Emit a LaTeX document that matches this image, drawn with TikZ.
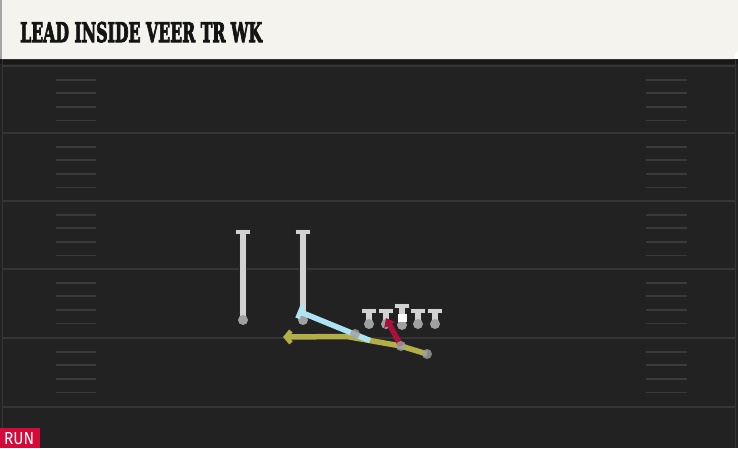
\documentclass[tikz,border=0pt]{standalone}
\usepackage{fontspec}
\usetikzlibrary{arrows.meta}
\newfontfamily\titlefont{DejaVu Serif}[BoldFeatures={FakeBold=4}]
\newfontfamily\runfont{Fira Sans}
\definecolor{fieldbg}{HTML}{222222}
\definecolor{bandc}{HTML}{181818}
\definecolor{yardc}{HTML}{353535}
\definecolor{hashc}{HTML}{3A3A3A}
\definecolor{headc}{HTML}{F5F3EE}
\definecolor{plgray}{HTML}{D2D2D2}
\definecolor{dotc}{HTML}{A0A0A0}
\definecolor{bluec}{HTML}{AEE4F2}
\definecolor{yellc}{HTML}{B2AF48}
\definecolor{redc}{HTML}{A8123A}
\definecolor{runc}{HTML}{D40A3A}
\begin{document}
\begin{tikzpicture}[x=1pt,y=-1pt,
  yardline/.style={line width=2pt, draw=yardc},
  hashline/.style={line width=1.8pt, draw=hashc},
  stemline/.style={line width=5.5pt, draw=plgray},
  stemshadow/.style={line width=7.5pt, draw=black!85},
  dotfill/.style={fill=dotc, opacity=0.8},
  route/.style={line width=5.5pt},
]
\useasboundingbox (0,0) rectangle (738,448);
% field
\fill[fieldbg] (0,59) rectangle (738,448);
\fill[bandc] (0,59) rectangle (738,64);
\draw[line width=1pt, draw=yardc] (2,59) -- (2,448);
\draw[line width=1pt, draw=yardc] (735.5,59) -- (735.5,448);
\foreach \y in {66,133,201,269,338,407} \draw[yardline] (2,\y) -- (735,\y);
\foreach \b in {66,133,201,269,338} {
  \foreach \k in {1,2,3,4} {
    \draw[hashline] (56,\b+\k*13.6) -- (96,\b+\k*13.6);
    \draw[hashline] (646,\b+\k*13.6) -- (687,\b+\k*13.6);
  }
}
% header
\fill[headc] (2,0) -- (738,0) -- (738,50) -- (733,59) -- (2,59) -- cycle;
\fill[black!35] (0,0) rectangle (2,59);
\node[anchor=base west, inner sep=0pt, text=black!92] (title) at (20,42)
  {\resizebox{242pt}{20pt}{\titlefont\bfseries LEAD INSIDE VEER TR WK}};
% run label
\fill[runc] (0,428) rectangle (40,448);
\node[anchor=base west, inner sep=0pt, text=white] (run) at (4,444)
  {\resizebox{30pt}{12pt}{\runfont RUN}};
% players: coordinates
\coordinate (wr1top) at (243,232); \coordinate (wr1) at (243,320);
\coordinate (wr2top) at (303,232); \coordinate (wr2) at (303,320);
\coordinate (lttop) at (369,311); \coordinate (lt) at (369,324);
\coordinate (lgtop) at (386,311); \coordinate (lg) at (386,324);
\coordinate (ctop) at (402,306);  \coordinate (c) at (402,325);
\coordinate (rgtop) at (418,311); \coordinate (rg) at (418,324);
\coordinate (rttop) at (435,311); \coordinate (rt) at (435,324);
\coordinate (fb) at (355,334);
\coordinate (qb) at (401,346);
\coordinate (rb) at (427,354);
\coordinate (bend) at (347,336.5);
\coordinate (yend) at (283,337);
\coordinate (bstart) at (370,340.5);
\coordinate (bblock) at (298,311);
\coordinate (rend) at (386,318);
% receivers and linemen
\foreach \p in {wr1,wr2,lt,lg,c,rg,rt} {
  \draw[stemshadow] (\p top) -- (\p);
  \draw[line width=6.5pt, draw=black!85] ([xshift=-8pt]\p top) -- ([xshift=8pt]\p top);
}
\foreach \p in {wr1,wr2,lt,lg,c,rg,rt} {
  \draw[stemline] (\p top) -- (\p);
  \draw[line width=4.5pt, draw=plgray] ([xshift=-7pt]\p top) -- ([xshift=7pt]\p top);
  \fill[dotc] (\p) circle (5pt);
}
\fill[white] (397.5,314) rectangle (406.5,322);
% routes
\draw[route, draw=yellc, -{Straight Barb[length=5pt,width=12pt,line width=4.5pt]}]
  (rb) -- (qb) -- (bend) -- (yend);
\draw[route, draw=bluec, -{Bar[width=14pt,line width=4.5pt]}] (bstart) -- (bblock);
\draw[route, draw=redc, -{Triangle[length=8pt,width=12pt]}] (qb) -- (rend);
% backs
\fill[dotfill] (fb) circle (5pt);
\fill[dotfill] (qb) circle (5pt);
\fill[dotfill] (rb) circle (5pt);
\end{tikzpicture}
\end{document}
